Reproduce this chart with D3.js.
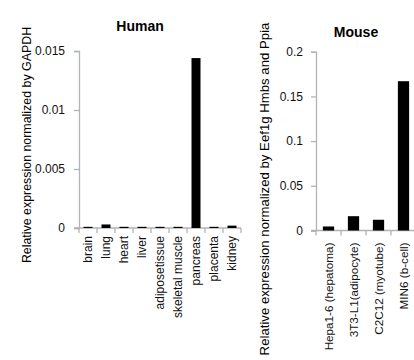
<!DOCTYPE html>
<html>
<head>
<meta charset="utf-8">
<script src="https://cdn.jsdelivr.net/npm/d3@7"></script>
<style>
  body { margin: 0; background: #fff; }
  svg { display: block; font-family: "Liberation Sans", Arial, sans-serif; }
</style>
</head>
<body>
<div id="chart"></div>
<script>
/* Data */
const HUMAN_TISSUES = ["brain", "lung", "heart", "liver", "adiposetissue", "skeletal muscle", "pancreas", "placenta", "kidney"]
const HUMAN_VALUES = [0.0001, 0.0003, 0.0001, 0.0001, 0.0001, 0.0001, 0.0144, 0.0001, 0.0002]
const HUMAN_TICKS = [0, 0.005, 0.01, 0.015]
const HUMAN_TICK_LABELS = ["0", "0.005", "0.01", "0.015"]

const MOUSE_CELLS = ["Hepa1-6 (hepatoma)", "3T3-L1(adipocyte)", "C2C12 (myotube)", "MIN6 (b-cell)"]
const MOUSE_VALUES = [0.0045, 0.016, 0.012, 0.167]
const MOUSE_TICKS = [0, 0.05, 0.1, 0.15, 0.2]
const MOUSE_TICK_LABELS = ["0", "0.05", "0.1", "0.15", "0.2"]

/* Layout */
const WIDTH = 414
const HEIGHT = 360
const AXIS_COLOR = "#b3b3b3"
const TEXT_COLOR = "#111"

const svg = d3.select("#chart")
              .append("svg")
              .attr("width", WIDTH)
              .attr("height", HEIGHT);

const drawPanel = (cfg) => {
  const g = svg.append("g");
  const xScale = d3.scaleBand()
                   .domain(cfg.categories)
                   .range([cfg.left, cfg.right]);
  const yScale = d3.scaleLinear()
                   .domain([0, cfg.max])
                   .range([cfg.bottom, cfg.top]);
  const bw = xScale.bandwidth();

  // y axis
  const yAxis = d3.axisLeft(yScale)
                  .tickValues(cfg.ticks)
                  .tickFormat((d, i) => cfg.tickLabels[i])
                  .tickSize(5)
                  .tickPadding(cfg.tickPad);
  const ya = g.append("g")
              .attr("transform", "translate(" + cfg.left + ",0)")
              .call(yAxis);
  ya.select(".domain").attr("stroke", AXIS_COLOR).attr("stroke-width", 1.3);
  ya.selectAll(".tick line").attr("stroke", AXIS_COLOR).attr("stroke-width", 1.3);
  ya.selectAll(".tick text")
    .attr("fill", TEXT_COLOR)
    .style("font-size", "12px");

  // x axis line with ticks at category boundaries
  g.append("line")
   .attr("x1", cfg.left - 5).attr("x2", cfg.right)
   .attr("y1", cfg.bottom).attr("y2", cfg.bottom)
   .attr("stroke", AXIS_COLOR).attr("stroke-width", 1.3);
  g.selectAll(".xtick")
   .data(cfg.categories.map((d) => xScale(d)).concat([cfg.right]))
   .enter()
   .append("line")
   .attr("class", "xtick")
   .attr("x1", (d) => d).attr("x2", (d) => d)
   .attr("y1", cfg.bottom).attr("y2", cfg.bottom + 5)
   .attr("stroke", AXIS_COLOR).attr("stroke-width", 1.3);

  // bars
  g.selectAll("rect")
   .data(cfg.values)
   .enter()
   .append("rect")
   .attr("x", (d, i) => xScale(cfg.categories[i]) + bw * (1 - cfg.barFrac) / 2)
   .attr("width", bw * cfg.barFrac)
   .attr("y", (d) => yScale(d))
   .attr("height", (d) => Math.max(1, cfg.bottom - yScale(d)))
   .attr("fill", "#000");

  // category labels, rotated
  g.selectAll(".xlabel")
   .data(cfg.categories)
   .enter()
   .append("text")
   .attr("class", "xlabel")
   .attr("transform", (d) => "translate(" + (xScale(d) + bw / 2 + 4) + "," + (cfg.bottom + cfg.labelGap) + ") rotate(-90)")
   .attr("text-anchor", "end")
   .attr("fill", TEXT_COLOR)
   .style("font-size", cfg.labelSize + "px")
   .text((d) => d);

  // title
  g.append("text")
   .attr("x", cfg.titleX).attr("y", cfg.titleY)
   .attr("text-anchor", "middle")
   .attr("fill", "#000")
   .style("font-size", "14px")
   .style("font-weight", "bold")
   .text(cfg.title);

  // y axis title
  g.append("text")
   .attr("transform", "translate(" + cfg.yTitleX + "," + cfg.yTitleY + ") rotate(-90)")
   .attr("text-anchor", "middle")
   .attr("fill", "#000")
   .style("font-size", cfg.yTitleSize + "px")
   .text(cfg.yTitle);
};

drawPanel({
  categories: HUMAN_TISSUES, values: HUMAN_VALUES,
  ticks: HUMAN_TICKS, tickLabels: HUMAN_TICK_LABELS, max: 0.015, tickPad: 9,
  left: 79, right: 241, top: 51, bottom: 228,
  barFrac: 0.5, labelGap: 8, labelSize: 12,
  title: "Human", titleX: 140, titleY: 31,
  yTitle: "Relative expression normalized by GAPDH", yTitleX: 31, yTitleY: 145, yTitleSize: 12.4
});

drawPanel({
  categories: MOUSE_CELLS, values: MOUSE_VALUES,
  ticks: MOUSE_TICKS, tickLabels: MOUSE_TICK_LABELS, max: 0.2, tickPad: 8,
  left: 316, right: 416, top: 51.7, bottom: 230.5,
  barFrac: 0.45, labelGap: 12, labelSize: 11.7,
  title: "Mouse", titleX: 356, titleY: 37,
  yTitle: "Relative expression normalized by Eef1g Hmbs and Ppia", yTitleX: 269, yTitleY: 189, yTitleSize: 13.2
});
</script>
</body>
</html>
